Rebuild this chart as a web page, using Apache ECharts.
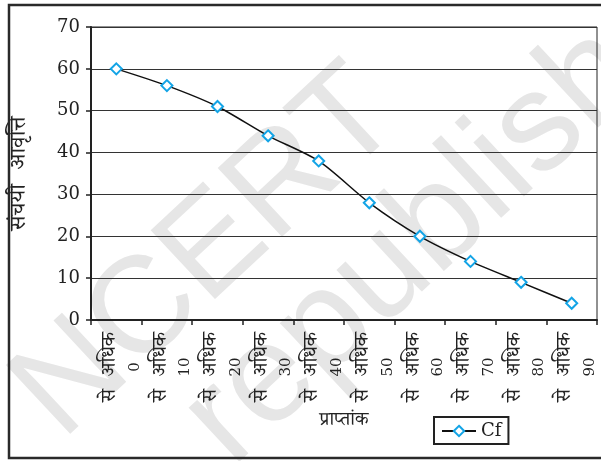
<!DOCTYPE html>
<html>
<head>
<meta charset="utf-8">
<script src="https://cdn.jsdelivr.net/npm/echarts@6/dist/echarts.min.js"></script>
<style>
html,body{margin:0;padding:0;background:#fff;}
#chart{width:601px;height:461px;}
</style>
</head>
<body>
<div id="chart"></div>
<script>
// Data
const lowerBounds = ['0', '10', '20', '30', '40', '50', '60', '70', '80', '90'];
const labelPhrase = 'से  अधिक';
const cfValues = [60, 56, 51, 44, 38, 28, 20, 14, 9, 4];
const yTicks = { min: 0, max: 70, interval: 10 };
const seriesName = 'Cf';
const xAxisTitle = 'प्राप्तांक';
const yAxisTitle = 'संचयी  आवृत्ति';
const watermarkWords = ['NCERT', 'republished'];

const categories = lowerBounds.map(v => labelPhrase + '\n' + v);

const serif = "'DejaVu Serif', 'Noto Serif Devanagari', 'Noto Sans Devanagari', 'Lohit Devanagari', serif";

const chart = echarts.init(document.getElementById('chart'), null, { renderer: 'canvas' });
chart.setOption({
  animation: false,
  backgroundColor: '#fff',
  graphic: [
    {
      type: 'text', z: -10, x: 208, y: 254, rotation: 0.75,
      style: { text: watermarkWords[0], fill: '#e6e6e6', font: '137px "Liberation Sans", Arial, sans-serif', textAlign: 'center', textVerticalAlign: 'middle' }
    },
    {
      type: 'text', z: -10, x: 206, y: 440, rotation: 0.75,
      style: { text: watermarkWords[1], fill: '#e6e6e6', font: '140px "Liberation Sans", Arial, sans-serif', textAlign: 'left', textVerticalAlign: 'middle' }
    },
    {
      type: 'rect', z: 100, shape: { x: 9, y: 5, width: 600, height: 453 },
      style: { fill: 'none', stroke: '#2a2a2a', lineWidth: 2.5 }
    }
  ],
  grid: {
    left: 90, right: 4, top: 27, bottom: 141,
    show: true, borderColor: '#222', borderWidth: 1, backgroundColor: 'transparent'
  },
  legend: {
    data: [seriesName],
    left: 434, top: 417,
    orient: 'horizontal',
    borderColor: '#222', borderWidth: 2,
    padding: [5, 7, 4, 7],
    itemWidth: 34, itemHeight: 13,
    textStyle: { fontFamily: serif, fontSize: 18, color: '#222' }
  },
  xAxis: {
    type: 'category',
    data: categories,
    boundaryGap: true,
    name: xAxisTitle,
    nameLocation: 'middle',
    nameGap: 91,
    nameTextStyle: { fontFamily: serif, fontSize: 19, color: '#222' },
    axisLine: { lineStyle: { color: '#222', width: 2 } },
    axisTick: { show: true, length: 5, lineStyle: { color: '#222', width: 1.5 } },
    axisLabel: {
      interval: 0, rotate: 90, align: 'center', verticalAlign: 'middle',
      margin: 47,
      formatter: function (val) {
        const parts = val.split('\n');
        return '{s| }\n{h|' + parts[0] + '}\n{n|' + parts[1] + '}';
      },
      rich: {
        s: { lineHeight: 12, fontSize: 8 },
        h: { fontFamily: serif, fontSize: 20, lineHeight: 25, color: '#222' },
        n: { fontFamily: serif, fontSize: 15, lineHeight: 25, color: '#222' }
      },
      color: '#222'
    },
    splitLine: { show: false }
  },
  yAxis: {
    type: 'value',
    min: yTicks.min, max: yTicks.max, interval: yTicks.interval,
    name: yAxisTitle,
    nameLocation: 'middle',
    nameGap: 60,
    nameRotate: 90,
    nameTextStyle: { fontFamily: serif, fontSize: 23, color: '#222' },
    axisLine: { show: true, lineStyle: { color: '#222', width: 2 } },
    axisTick: { show: true, length: 5, lineStyle: { color: '#222', width: 1.5 } },
    axisLabel: { margin: 11, fontFamily: serif, fontSize: 18, color: '#222' },
    splitLine: { show: true, lineStyle: { color: '#333', width: 1 } }
  },
  series: [{
    name: seriesName,
    type: 'line',
    data: cfValues,
    smooth: 0.25,
    symbol: 'diamond',
    symbolSize: 11,
    lineStyle: { color: '#111', width: 1.5 },
    itemStyle: { color: '#fff', borderColor: '#13a4e6', borderWidth: 2 }
  }]
});
</script>
</body>
</html>
